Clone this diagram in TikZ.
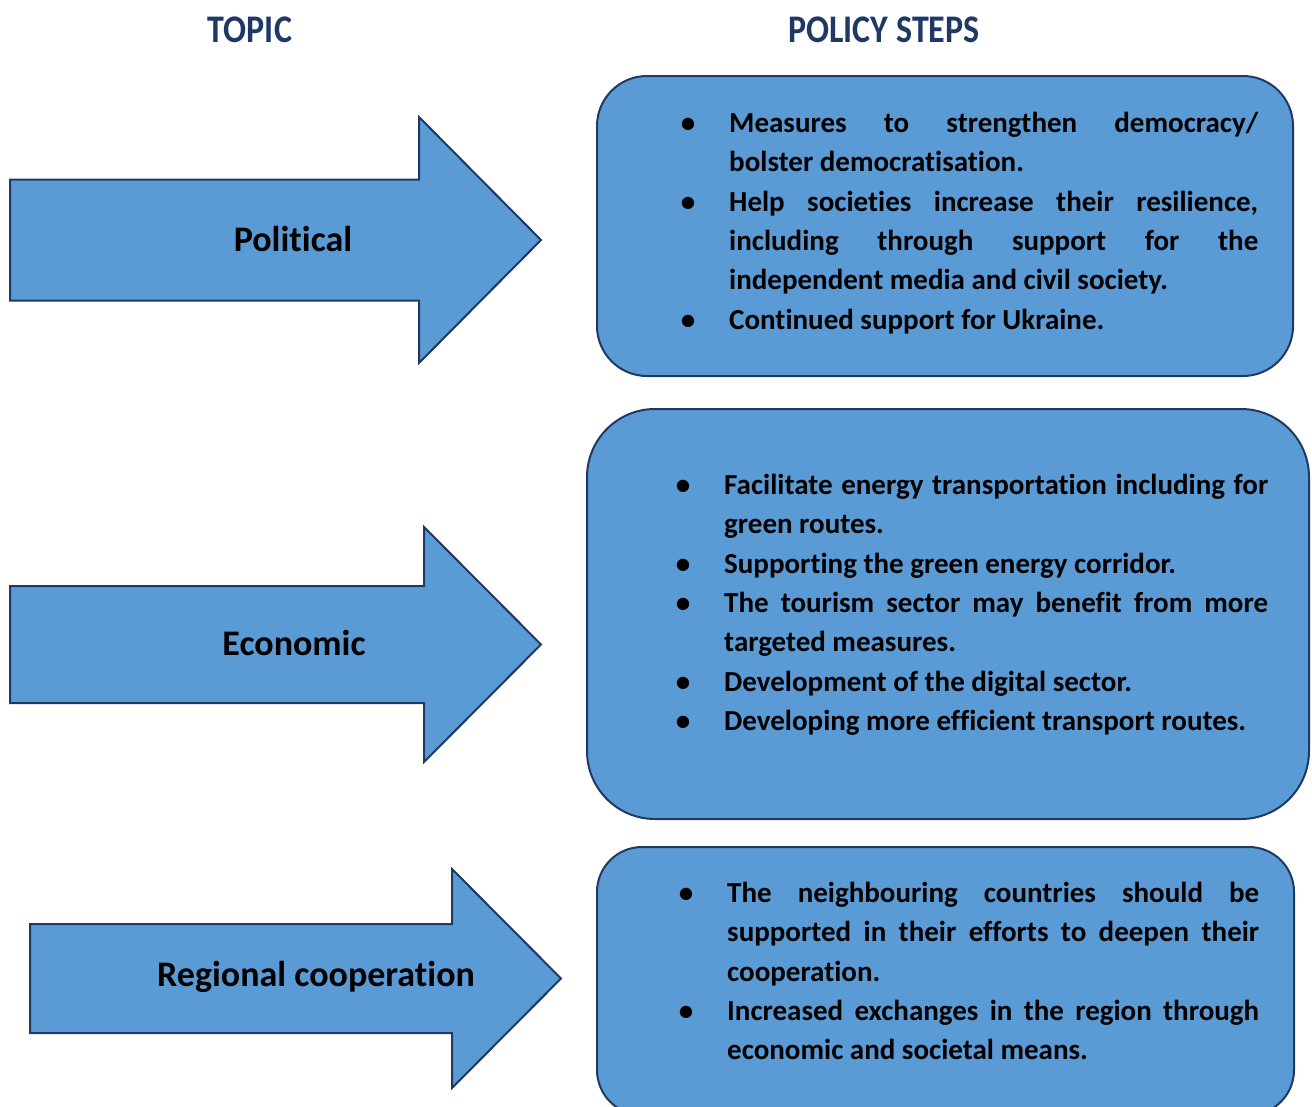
\documentclass[tikz,border=0pt]{standalone}
\usepackage{fontspec}
\setmainfont{Carlito}[Ligatures=NoCommon]
\usetikzlibrary{calc}
\definecolor{stepfill}{HTML}{5B9BD5}
\definecolor{stepline}{HTML}{1F3864}
\newcommand{\policylabel}[1]{\hfil\makebox[0pt]{#1}\hfil}
\newenvironment{policylist}{\begin{list}{\textbullet}{%
  \setlength{\leftmargin}{46pt}\setlength{\labelwidth}{10pt}%
  \setlength{\labelsep}{36pt}\setlength{\itemsep}{0pt}%
  \setlength{\parsep}{0pt}\setlength{\topsep}{0pt}%
  \setlength{\partopsep}{0pt}\setlength{\parskip}{0pt}%
  \let\makelabel\policylabel}}{\end{list}}

\begin{document}
\begin{tikzpicture}[x=1pt,y=-1pt,
  topicarrow/.style={fill=stepfill,draw=stepline,line width=2pt,line join=miter},
  stepbox/.style={fill=stepfill,draw=stepline,line width=2pt},
  headtext/.style={text=stepline,font=\fontsize{34}{40}\selectfont\bfseries},
  topictext/.style={font=\fontsize{36}{40}\selectfont\bfseries},
  steptext/.style={anchor=north west,inner sep=0pt,align=justify,
    font=\fontsize{29}{39.3}\selectfont\bfseries}]
\useasboundingbox (0,0) rectangle (1312,1106);
\node[headtext] (topic) at (250,30) {\scalebox{1}[1.15]{TOPIC}};
\node[headtext] (steps) at (884,30) {\scalebox{1}[1.15]{POLICY STEPS}};
\foreach \nm/\sx/\hx/\tx/\ty/\sh/\hh/\lx/\lab in {pol/10/419/541/240/60.5/123/293/Political,
  eco/10/424/541/644.5/58.5/117.5/294/Economic,
  reg/30/452/561/978.5/54.5/109.5/316/Regional cooperation} {
 \draw[topicarrow] (\sx,{\ty-\sh}) -- (\hx,{\ty-\sh}) -- (\hx,{\ty-\hh}) -- (\tx,\ty)
   -- (\hx,{\ty+\hh}) -- (\hx,{\ty+\sh}) -- (\sx,{\ty+\sh}) -- cycle;
 \node[topictext] (\nm) at (\lx,{\ty-1.5}) {\lab};
}
\draw[stepbox,rounded corners=50pt] (597,76) rectangle (1293,376);
\draw[stepbox,rounded corners=68pt] (587,409) rectangle (1309,819);
\draw[stepbox,rounded corners=45pt] (597,847) rectangle (1294,1115);
\node[steptext,text width=575pt] (polsteps) at (683,93) {%
\begin{policylist}
\item Measures to strengthen democracy/\linebreak bolster democratisation.
\item Help societies increase their resilience,\linebreak including through support for the\linebreak independent media and civil society.
\item Continued support for Ukraine.
\end{policylist}};
\node[steptext,text width=590pt] (ecosteps) at (678,455) {%
\begin{policylist}
\item Facilitate energy transportation including for\linebreak green routes.
\item Supporting the green energy corridor.
\item The tourism sector may benefit from more\linebreak targeted measures.
\item Development of the digital sector.
\item Developing more efficient transport routes.
\end{policylist}};
\node[steptext,text width=578pt] (regsteps) at (681,863) {%
\begin{policylist}
\item The neighbouring countries should be\linebreak supported in their efforts to deepen their\linebreak cooperation.
\item Increased exchanges in the region through\linebreak economic and societal means.
\end{policylist}};
\end{tikzpicture}
\end{document}
